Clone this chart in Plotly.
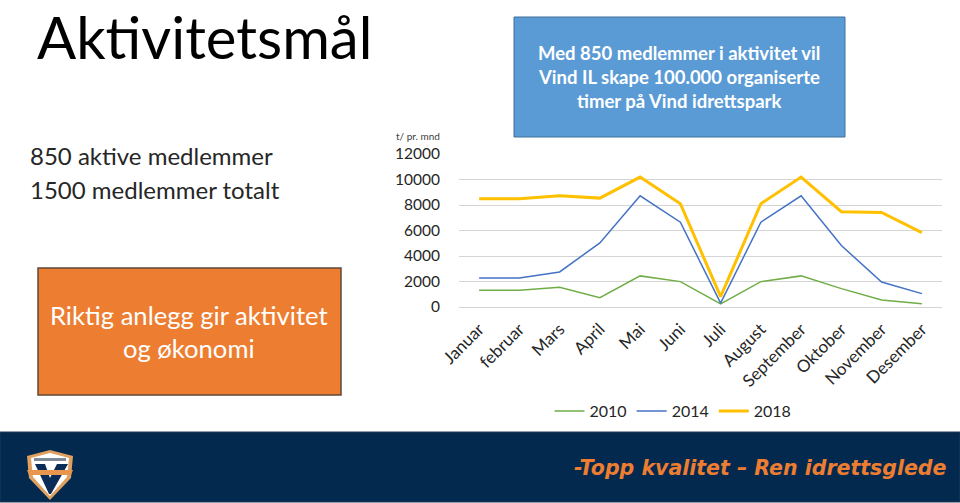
import plotly.graph_objects as go

months = ["Januar", "februar", "Mars", "April", "Mai", "Juni", "Juli", "August",
          "September", "Oktober", "November", "Desember"]
y2010 = [1310, 1310, 1550, 730, 2440, 1990, 240, 1990, 2440, 1440, 550, 260]
y2014 = [2280, 2280, 2750, 5030, 8720, 6650, 300, 6650, 8720, 4820, 1960, 1050]
y2018 = [8490, 8490, 8720, 8540, 10190, 8100, 810, 8100, 10190, 7470, 7410, 5840]
y_ticks = [0, 2000, 4000, 6000, 8000, 10000, 12000]

W, H = 960, 503
def fx(p): return p / W
def fy(p): return 1 - p / H

fig = go.Figure()
for name, vals, col, w in [("2010", y2010, "#70ad47", 1.5),
                           ("2014", y2014, "#4472c4", 1.5),
                           ("2018", y2018, "#ffc000", 3)]:
    fig.add_trace(go.Scatter(x=months, y=vals, name=name, mode="lines",
                             line=dict(color=col, width=w)))

def box(x0, y0, x1, y1, fill, line=None, lw=1, layer="below"):
    fig.add_shape(type="rect", xref="paper", yref="paper", x0=fx(x0), x1=fx(x1),
                  y0=fy(y1), y1=fy(y0), fillcolor=fill, layer=layer,
                  line=dict(color=line or fill, width=lw))

def poly(pts, fill, line=None, lw=0):
    path = "M" + " L".join(f"{fx(a):.5f},{fy(b):.5f}" for a, b in pts) + " Z"
    fig.add_shape(type="path", xref="paper", yref="paper", path=path, fillcolor=fill,
                  layer="above", line=dict(color=line or fill, width=lw))

def text(x, y, s, size, color, anchor="left", family="Lato", **kw):
    fig.add_annotation(xref="paper", yref="paper", x=fx(x), y=fy(y), text=s, showarrow=False,
                       xanchor=anchor, yanchor="middle", align=anchor,
                       font=dict(size=size, color=color, family=family), **kw)

# Panels
box(514, 17, 845, 137, "#5b9bd5", "#41719c", 1)
box(38, 268, 341, 395, "#ed7d31", "#5f4a38", 1.5)
box(0, 432, 960, 502, "#04294f", "#1f3b57", 1)

# Shield logo
poly([(27, 456), (50, 450), (73, 456), (71, 478), (50, 500), (29, 478)], "#e0a060")
poly([(31, 458), (50, 453), (69, 458), (67, 477), (50, 496), (33, 477)], "#ffffff")
poly([(34, 458), (66, 458), (66, 461), (34, 461)], "#7f8a98")
poly([(35, 464), (45, 464), (50, 478), (57, 464), (68, 464), (51, 494), (49, 494)], "#0c2c58")
poly([(27, 470), (73, 470), (71, 475), (29, 475)], "#e8964e")

# Texts
text(35, 36, "Aktivitetsmål", 58, "#000000")
text(28, 155, "850 aktive medlemmer", 24, "#262626")
text(28, 190, "1500 medlemmer totalt", 24, "#262626")
text(189, 315, "Riktig anlegg gir aktivitet", 25.6, "#ffffff", "center")
text(189, 348, "og økonomi", 25.6, "#ffffff", "center")
text(679, 53, "<b>Med 850 medlemmer i aktivitet vil</b>", 18.5, "#ffffff", "center")
text(679, 77, "<b>Vind IL skape 100.000 organiserte</b>", 18.5, "#ffffff", "center")
text(679, 101, "<b>timer på Vind idrettspark</b>", 18.5, "#ffffff", "center")
text(442, 136, "t/ pr. mnd", 10, "#404040", "right")
text(949, 468, "<b><i>-Topp kvalitet – Ren idrettsglede</i></b>", 20.5, "#ed7d31", "right", "DejaVu Sans")

fig.update_layout(
    width=W, height=H, autosize=False,
    margin=dict(l=0, r=0, t=0, b=0, autoexpand=False),
    paper_bgcolor="#ffffff", plot_bgcolor="#ffffff",
    xaxis=dict(domain=[fx(459), fx(942)], type="category", range=[-0.5, 11.5], tickangle=-45,
               showgrid=False, showline=False, ticks="", ticklabelstandoff=8,
               tickfont=dict(family="Lato", size=17, color="#262626")),
    yaxis=dict(domain=[fy(307), fy(154)], range=[0, 12000], tickvals=y_ticks, tickformat="d",
               gridcolor="#d4d4d4", gridwidth=1.2, zeroline=True, zerolinecolor="#d4d4d4",
               zerolinewidth=1.2, ticks="", ticklen=0, ticklabelstandoff=18,
               tickfont=dict(family="Lato", size=15.5, color="#262626")),
    showlegend=True,
    legend=dict(orientation="h", x=fx(673), xanchor="center", y=fy(411), yanchor="middle",
                font=dict(family="Lato", size=16, color="#262626"), itemwidth=30,
                bgcolor="rgba(0,0,0,0)"),
)
fig.write_html("out.html", config={"displayModeBar": False},
               post_script="document.body.style.margin='0';")
